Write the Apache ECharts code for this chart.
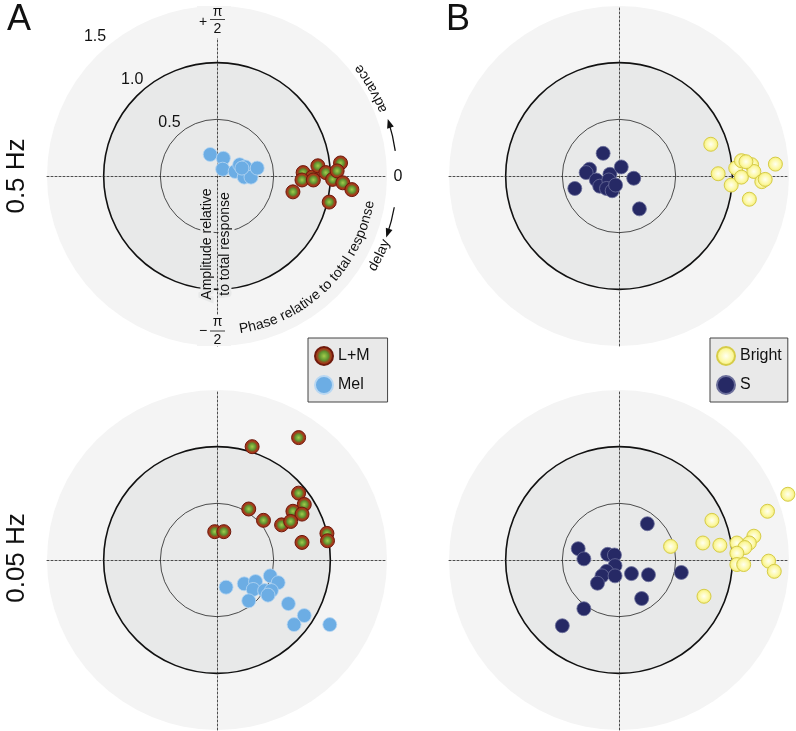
<!DOCTYPE html>
<html>
<head>
<meta charset="utf-8">
<script src="https://cdn.jsdelivr.net/npm/echarts@6/dist/echarts.min.js"></script>
<style>
  html, body { margin: 0; padding: 0; background: #fff; }
  #chart { width: 796px; height: 731px; }
</style>
</head>
<body>
<div id="chart"></div>
<script>
// amplitude rings and their labels
const ringLevels = [1.5, 1.0, 0.5]
const ringLabels = ['1.5', '1.0', '0.5']

// 0.5 Hz, panel A  [real, imag] relative to total response
const lm05 = [[0.76, 0.03], [0.84, -0.01], [0.89, 0.09], [0.96, 0.03], [1.02, -0.03], [1.09, 0.115], [1.06, 0.045],
  [1.11, -0.06], [1.19, -0.12], [0.67, -0.14], [0.99, -0.23], [0.75, -0.035], [0.85, -0.035]]
const mel05 = [[-0.06, 0.19], [0.056, 0.156], [0.05, 0.06], [0.16, 0.04], [0.20, 0.10], [0.25, 0.08], [0.24, -0.01],
  [0.30, -0.01], [0.355, 0.07], [0.22, 0.07]]
// 0.5 Hz, panel B
const bright05 = [[0.81, 0.28], [0.875, 0.02], [0.99, -0.08], [1.03, 0.07], [1.08, 0.135], [1.08, -0.01], [1.17, 0.10],
  [1.19, 0.04], [1.26, -0.05], [1.29, -0.03], [1.38, 0.105], [1.15, -0.205], [1.12, 0.126]]
const s05 = [[-0.14, 0.20], [-0.26, 0.06], [-0.29, 0.03], [-0.39, -0.11], [-0.20, -0.035], [-0.17, -0.09], [-0.08, 0.015],
  [-0.09, -0.035], [-0.11, -0.11], [-0.06, -0.13], [-0.03, -0.08], [0.02, 0.08], [0.13, -0.02], [0.18, -0.29]]
// 0.05 Hz, panel A
const lm005 = [[0.72, 1.08], [0.31, 1.00], [0.72, 0.59], [0.77, 0.49], [0.28, 0.45], [0.67, 0.43], [0.75, 0.405],
  [0.41, 0.35], [0.57, 0.31], [0.65, 0.34], [-0.02, 0.25], [0.06, 0.25], [0.75, 0.155], [0.97, 0.235], [0.975, 0.17]]
const mel005 = [[0.08, -0.24], [0.24, -0.21], [0.34, -0.19], [0.47, -0.14], [0.54, -0.20], [0.32, -0.26], [0.42, -0.27],
  [0.48, -0.27], [0.45, -0.31], [0.28, -0.36], [0.63, -0.385], [0.77, -0.49], [0.68, -0.57], [0.995, -0.57]]
// 0.05 Hz, panel B
const bright005 = [[1.49, 0.58], [1.31, 0.43], [0.82, 0.35], [0.455, 0.12], [0.74, 0.15], [0.89, 0.13], [1.04, 0.15],
  [1.19, 0.21], [1.15, 0.15], [1.11, 0.11], [1.04, 0.06], [1.04, -0.04], [1.10, -0.04], [1.32, -0.01], [1.37, -0.10], [0.75, -0.32]]
const s005 = [[0.25, 0.32], [-0.36, 0.10], [-0.31, 0.01], [-0.10, 0.05], [-0.04, 0.044], [-0.035, -0.05], [-0.11, -0.10],
  [-0.15, -0.14], [-0.19, -0.205], [-0.035, -0.14], [0.11, -0.12], [0.26, -0.13], [0.55, -0.11], [0.20, -0.34], [-0.31, -0.43], [-0.50, -0.58]]

const FONT = '"Liberation Sans", Arial, Helvetica, sans-serif'
const SIZE = 340
const grids = [[47, 6], [449, 6], [47, 390], [449, 390]]
// TL panel center in px, used for the decorations
const CX = 47 + SIZE / 2, CY = 6 + SIZE / 2

const ringStyles = [
  { fill: '#f4f4f4', stroke: null },
  { fill: '#e8e9e9', stroke: '#111', lineWidth: 1.6 },
  { fill: null, stroke: '#222', lineWidth: 0.8 }
]

function ringSeries(i) {
  return {
    type: 'custom', xAxisIndex: i, yAxisIndex: i, z: 1, silent: true,
    data: ringLevels.map(r => [0, 0, r]),
    renderItem(params, api) {
      const c = api.coord([0, 0])
      const r = api.size([api.value(2), 0])[0]
      return { type: 'circle', shape: { cx: c[0], cy: c[1], r: r }, style: ringStyles[params.dataIndex] }
    }
  }
}

const lmStyle = {
  color: { type: 'radial', x: 0.5, y: 0.5, r: 0.5, colorStops: [
    { offset: 0, color: '#a3cc4c' }, { offset: 0.45, color: '#5f9430' },
    { offset: 0.62, color: '#8a5520' }, { offset: 0.78, color: '#aa3519' }, { offset: 1, color: '#992a14' }] },
  borderColor: '#6e1a0c', borderWidth: 1, opacity: 1
}
const melStyle = { color: '#6cade4', borderColor: '#b8d7f2', borderWidth: 0.8, opacity: 1 }
const brightStyle = {
  color: { type: 'radial', x: 0.5, y: 0.5, r: 0.5, colorStops: [
    { offset: 0, color: '#fffff2' }, { offset: 0.65, color: '#fcf8a2' }, { offset: 1, color: '#f1e86c' }] },
  borderColor: '#d6cc48', borderWidth: 1, opacity: 1
}
const sStyle = { color: '#262965', borderColor: '#6b6e9a', borderWidth: 0.8, opacity: 1 }

function dots(name, data, i, style) {
  return { type: 'scatter', name: name, data: data, xAxisIndex: i, yAxisIndex: i, symbolSize: 14, z: 6, itemStyle: style }
}

const dash = { type: [2, 2], width: 0.8, color: '#222' }
const xAxes = grids.map((g, i) => ({
  type: 'value', gridIndex: i, min: -1.5, max: 1.5, z: 3,
  axisLine: { onZero: true, lineStyle: dash }, axisTick: { show: false }, axisLabel: { show: false }, splitLine: { show: false }
}))
const yAxes = xAxes.map(a => Object.assign({}, a))

// ring labels sit along the 131 deg direction just outside each ring
const labAng = 131 * Math.PI / 180
const labelSeries = {
  type: 'scatter', xAxisIndex: 0, yAxisIndex: 0, symbolSize: 0, z: 4, silent: true,
  itemStyle: { opacity: 1 },
  data: ringLevels.map(r => [(r + 0.14) * Math.cos(labAng), (r + 0.13) * Math.sin(labAng)]),
  label: { show: true, position: 'inside', formatter: p => ringLabels[p.dataIndex], fontSize: 16, color: '#111', opacity: 1, fontFamily: FONT }
}

// text along an arc of the TL panel, running counter-clockwise, tops toward the center
const mctx = document.createElement('canvas').getContext('2d')
function arcText(text, r, midDeg, fontSize) {
  mctx.font = fontSize + 'px ' + FONT
  const chars = [...text]
  const w = chars.map(ch => mctx.measureText(ch).width)
  const total = w.reduce((a, b) => a + b, 0)
  let a = midDeg * Math.PI / 180 - total / r / 2
  return chars.map((ch, i) => {
    const th = a + w[i] / 2 / r
    a += w[i] / r
    return {
      type: 'text', x: CX + r * Math.cos(th), y: CY - r * Math.sin(th), rotation: th + Math.PI / 2, z: 5,
      style: { text: ch, font: fontSize + 'px ' + FONT, fill: '#111', align: 'center', verticalAlign: 'middle', textAlign: 'center', textVerticalAlign: 'middle' }
    }
  })
}

function arcArrow(r, fromDeg, toDeg) {
  const f = fromDeg * Math.PI / 180, t = toDeg * Math.PI / 180
  const ccw = toDeg > fromDeg
  const px = CX + r * Math.cos(t), py = CY - r * Math.sin(t)
  const s = ccw ? 1 : -1
  const dx = -Math.sin(t) * s, dy = -Math.cos(t) * s
  const nx = Math.cos(t), ny = -Math.sin(t)
  return [
    { type: 'arc', z: 5, shape: { cx: CX, cy: CY, r: r, startAngle: -Math.max(f, t), endAngle: -Math.min(f, t), clockwise: true },
      style: { stroke: '#111', lineWidth: 1.3, fill: null } },
    { type: 'polygon', z: 5, shape: { points: [
      [px + dx * 3, py + dy * 3], [px - dx * 6 + nx * 3.5, py - dy * 6 + ny * 3.5], [px - dx * 6 - nx * 3.5, py - dy * 6 - ny * 3.5]] },
      style: { fill: '#111' } }
  ]
}

function txt(text, x, y, size, extra) {
  return Object.assign({
    type: 'text', x: x, y: y, z: 5,
    style: { text: text, font: size + 'px ' + FONT, fill: '#111', align: 'center', verticalAlign: 'middle', textAlign: 'center', textVerticalAlign: 'middle' }
  }, extra || {})
}

function haloTxt(text, x, y) {
  return {
    type: 'text', x: x, y: y, z: 2, rotation: Math.PI / 2,
    style: { text: text, font: '14px ' + FONT, fill: '#111', align: 'center', verticalAlign: 'middle',
      textAlign: 'center', textVerticalAlign: 'middle', stroke: '#e8e9e9', lineWidth: 5 }
  }
}

const graphics = [
  txt('A', 19, 20, 36),
  txt('B', 458, 20, 36),
  txt('0.5 Hz', 17, 176, 26, { rotation: Math.PI / 2 }),
  txt('0.05 Hz', 17, 558, 26, { rotation: Math.PI / 2 }),
  // +pi/2 and -pi/2 with a patch hiding the dashed axis
  { type: 'rect', z: 4, shape: { x: 197, y: 6, width: 34, height: 32 }, style: { fill: '#f4f4f4' } },
  txt('+', 203, 22, 14),
  txt('π', 217.5, 12, 14),
  { type: 'line', z: 5, shape: { x1: 210, y1: 19.5, x2: 225, y2: 19.5 }, style: { stroke: '#111', lineWidth: 0.8 } },
  txt('2', 217.5, 29, 14),
  { type: 'rect', z: 4, shape: { x: 197, y: 315, width: 34, height: 31 }, style: { fill: '#f4f4f4' } },
  txt('−', 203, 331, 14),
  txt('π', 217.5, 322, 14),
  { type: 'line', z: 5, shape: { x1: 210, y1: 331, x2: 225, y2: 331 }, style: { stroke: '#111', lineWidth: 0.8 } },
  txt('2', 217.5, 340, 14),
  txt('0', 398, 177, 16),
  // amplitude label, below the dashed axis
  haloTxt('Amplitude relative', 207, 244),
  haloTxt('to total response', 225, 244)
]
  .concat(arcText('Phase relative to total response', 155, -45.5, 14))
  .concat(arcText('advance', 178, 29.6, 14))
  .concat(arcText('delay', 181, -26, 14))
  .concat(arcArrow(180, 8, 17.5))
  .concat(arcArrow(180, -10, -19))

const legendBase = {
  orient: 'vertical', top: 338, itemWidth: 18, itemHeight: 18, itemGap: 9, icon: 'circle', selectedMode: false,
  backgroundColor: '#e9e9e9', borderColor: '#444', borderWidth: 1, borderRadius: 0,
  textStyle: { fontSize: 16, color: '#111', fontFamily: FONT }
}

const chart = echarts.init(document.getElementById('chart'))
chart.setOption({
  backgroundColor: '#fff',
  animation: false,
  grid: grids.map(g => ({ left: g[0], top: g[1], width: SIZE, height: SIZE })),
  xAxis: xAxes,
  yAxis: yAxes,
  legend: [
    Object.assign({}, legendBase, { data: ['L+M', 'Mel'], left: 308, padding: [8, 18, 7, 6] }),
    Object.assign({}, legendBase, { data: ['Bright', 'S'], left: 710, padding: [8, 6, 7, 6] })
  ],
  graphic: { elements: graphics },
  series: [
    ringSeries(0), ringSeries(1), ringSeries(2), ringSeries(3),
    labelSeries,
    dots('L+M', lm05, 0, lmStyle), dots('Mel', mel05, 0, melStyle),
    dots('Bright', bright05, 1, brightStyle), dots('S', s05, 1, sStyle),
    dots('L+M', lm005, 2, lmStyle), dots('Mel', mel005, 2, melStyle),
    dots('Bright', bright005, 3, brightStyle), dots('S', s005, 3, sStyle)
  ]
})
</script>
</body>
</html>
